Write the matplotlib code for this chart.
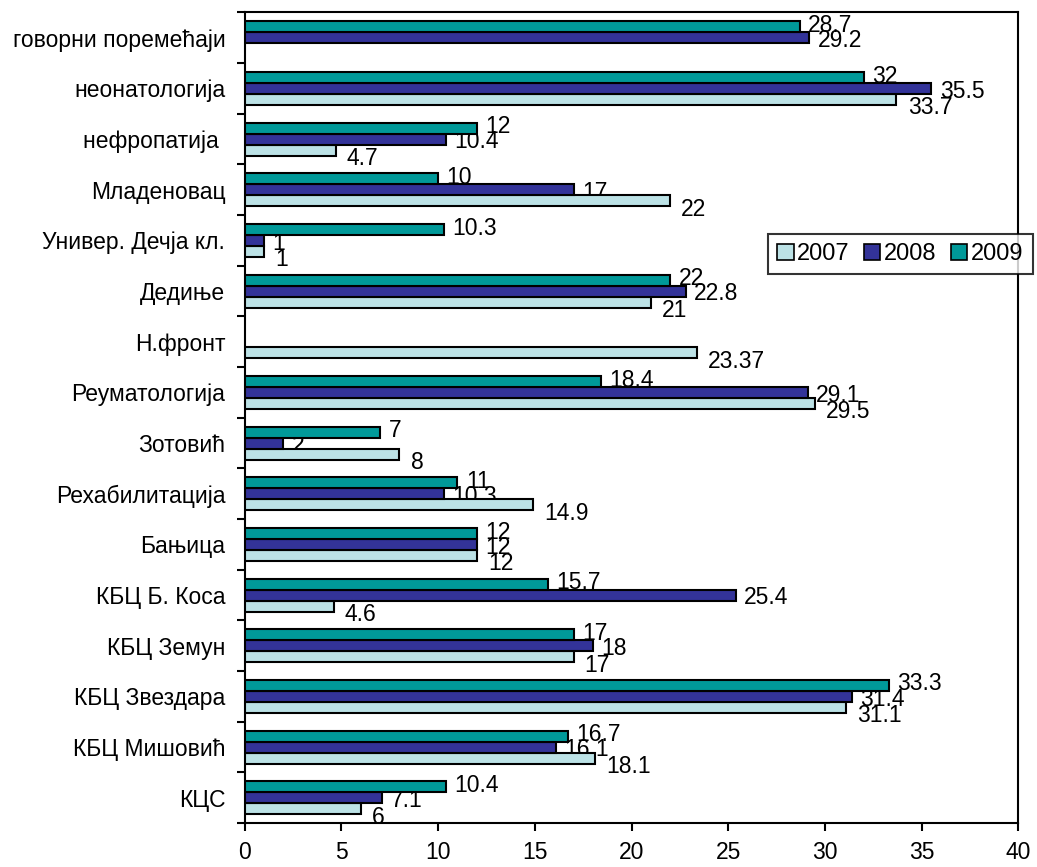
import numpy as np
import matplotlib
matplotlib.use('Agg')
import matplotlib.pyplot as plt

plt.rcParams['font.family'] = ['Liberation Sans', 'DejaVu Sans']

# categories, bottom to top
categories = ['КЦС', 'КБЦ Мишовић', 'КБЦ Звездара', 'КБЦ Земун', 'КБЦ Б. Коса',
              'Бањица', 'Рехабилитација', 'Зотовић', 'Реуматологија', 'Н.фронт',
              'Дедиње', 'Универ. Дечја кл.', 'Младеновац', 'нефропатија ',
              'неонатологија', 'говорни поремећаји']
nan = np.nan
v2007 = [6, 18.1, 31.1, 17, 4.6, 12, 14.9, 8, 29.5, 23.37, 21, 1, 22, 4.7, 33.7, nan]
v2008 = [7.1, 16.1, 31.4, 18, 25.4, 12, 10.3, 2, 29.1, nan, 22.8, 1, 17, 10.4, 35.5, 29.2]
v2009 = [10.4, 16.7, 33.3, 17, 15.7, 12, 11, 7, 18.4, nan, 22, 10.3, 10, 12, 32, 28.7]
years = ['2007', '2008', '2009']
colors = ['#BCE2E6', '#333399', '#009999']

fig = plt.figure(figsize=(10.37, 8.67), dpi=100)
ax = fig.add_axes([0.236, 0.0507, 0.746, 0.935])

y = np.arange(len(categories))
h = 0.217
# label offsets in points (excel puts the labels a bit apart)
lab_dx = [8, 6, 6]
lab_dy = [-6, -2, 1]
series = [v2007, v2008, v2009]
for k, vals in enumerate(series):
    vals = np.array(vals, dtype=float)
    pos = y + (k - 1) * h
    ax.barh(pos, vals, height=h, color=colors[k], edgecolor='black',
            linewidth=1.5, label=years[k], zorder=3)
    for p, v in zip(pos, vals):
        if np.isnan(v):
            continue
        txt = ('%g' % v)
        ax.annotate(txt, (v, p), xytext=(lab_dx[k], lab_dy[k]),
                    textcoords='offset points', ha='left', va='center',
                    fontsize=16.5, zorder=2)

ax.set_xlim(0, 40)
ax.set_ylim(-0.5, len(categories) - 0.5)
ax.set_xticks(np.arange(0, 41, 5))
ax.tick_params(axis='x', direction='out', length=6, width=1.5, labelsize=16.5, pad=7)

ax.set_yticks(np.arange(-0.5, len(categories), 1))
ax.set_yticklabels([])
ax.tick_params(axis='y', which='major', direction='out', length=6, width=1.5)
ax.set_yticks(y, minor=True)
ax.set_yticklabels(categories, minor=True, fontsize=16.5)
ax.tick_params(axis='y', which='minor', length=0, pad=14)

for s in ax.spines.values():
    s.set_linewidth(1.5)

leg = fig.legend(loc='center', bbox_to_anchor=(0.868, 0.707), ncol=3,
                 fontsize=17, frameon=True, fancybox=False, edgecolor='black',
                 handlelength=0.7, handleheight=0.7, handletextpad=0.15,
                 columnspacing=0.6, borderpad=0.4, borderaxespad=0)
leg.get_frame().set_linewidth(1.5)
for p in leg.get_patches():
    p.set_linewidth(1.2)

fig.savefig('out.png', dpi=100)
